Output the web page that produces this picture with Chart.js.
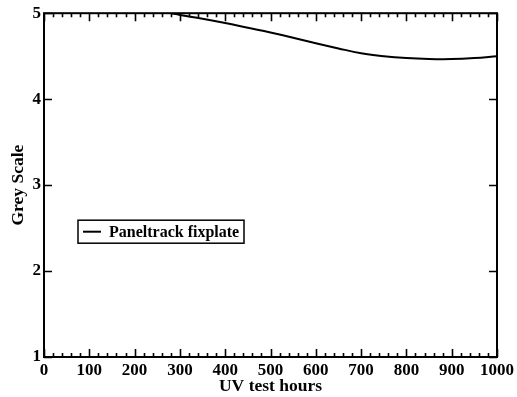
<!DOCTYPE html>
<html>
<head>
<meta charset="utf-8">
<script src="https://cdn.jsdelivr.net/npm/chart.js@4/dist/chart.umd.min.js"></script>
<style>
  html, body { margin: 0; padding: 0; background: #fff; }
  #wrap { width: 517px; height: 397px; }
</style>
</head>
<body>
<div id="wrap"><canvas id="uvChart" width="517" height="397"></canvas></div>
<script>
// UV exposure data
const hours = [280, 300, 350, 400, 450, 500, 550, 600, 650, 700, 750, 800, 850, 900, 950, 1000];
const greyScale = [5.0, 4.98, 4.935, 4.885, 4.83, 4.775, 4.715, 4.65, 4.59, 4.535, 4.5, 4.478, 4.467, 4.466, 4.478, 4.5];
const seriesName = 'Paneltrack fixplate';
const xTicks = [0, 100, 200, 300, 400, 500, 600, 700, 800, 900, 1000];
const yTicks = [1, 2, 3, 4, 5];

const serif = '"Liberation Serif", "DejaVu Serif", serif';

// frame, inward ticks and boxed legend, xmgrace style
const framePlugin = {
    id: 'frame',
    afterDraw(chart) {
        const { ctx, chartArea: a, scales } = chart;
        const xs = scales.x, ys = scales.y;
        ctx.save();
        ctx.strokeStyle = '#000';
        ctx.lineWidth = 2;
        ctx.strokeRect(a.left, a.top, a.right - a.left, a.bottom - a.top);

        ctx.beginPath();
        for (let v = 0; v <= 1000; v += 20) {
            const px = Math.round(xs.getPixelForValue(v)) + 0.5;
            const len = v % 100 === 0 ? 8 : 4;
            ctx.moveTo(px, a.bottom); ctx.lineTo(px, a.bottom - len);
            ctx.moveTo(px, a.top); ctx.lineTo(px, a.top + len);
        }
        yTicks.forEach(v => {
            const py = Math.round(ys.getPixelForValue(v)) + 0.5;
            ctx.moveTo(a.left, py); ctx.lineTo(a.left + 8, py);
            ctx.moveTo(a.right, py); ctx.lineTo(a.right - 8, py);
        });
        ctx.lineWidth = 1.6;
        ctx.stroke();

        // legend box
        const bx = a.left + 34, by = a.top + 207, bw = 166, bh = 23;
        ctx.lineWidth = 1.5;
        ctx.strokeRect(bx, by, bw, bh);
        ctx.beginPath();
        ctx.lineWidth = 2;
        ctx.moveTo(bx + 5, by + bh / 2);
        ctx.lineTo(bx + 23, by + bh / 2);
        ctx.stroke();
        ctx.fillStyle = '#000';
        ctx.font = 'bold 16px ' + serif;
        ctx.textBaseline = 'middle';
        ctx.fillText(chart.data.datasets[0].label, bx + 31, by + bh / 2 + 1);
        ctx.restore();
    }
};

const createUvChart = () => {
    const ctx = document.getElementById('uvChart')?.getContext('2d');
    if (!ctx) return;
    new Chart(ctx, {
        type: 'line',
        data: {
            datasets: [{
                label: seriesName,
                data: hours.map((h, i) => ({ x: h, y: greyScale[i] })),
                borderColor: '#000',
                borderWidth: 2,
                pointRadius: 0,
                tension: 0.4,
                fill: false
            }]
        },
        options: {
            responsive: false,
            animation: false,
            layout: { padding: { top: 13, right: 19, left: 0, bottom: 0 } },
            plugins: {
                legend: { display: false },
                tooltip: { enabled: false }
            },
            scales: {
                x: {
                    type: 'linear',
                    min: 0,
                    max: 1000,
                    afterBuildTicks: s => { s.ticks = xTicks.map(v => ({ value: v })); },
                    afterFit: s => { s.height = 40; },
                    grid: { display: false, drawTicks: false },
                    border: { display: false },
                    ticks: {
                        color: '#000',
                        padding: 3,
                        maxRotation: 0,
                        callback: v => String(v),
                        font: { family: serif, size: 17, weight: 'bold' }
                    },
                    title: {
                        display: true,
                        text: 'UV test hours',
                        color: '#000',
                        padding: { top: -4, bottom: 0 },
                        font: { family: serif, size: 17.5, weight: 'bold' }
                    }
                },
                y: {
                    type: 'linear',
                    min: 1,
                    max: 5,
                    afterBuildTicks: s => { s.ticks = yTicks.map(v => ({ value: v })); },
                    afterFit: s => { s.width = 44; },
                    grid: { display: false, drawTicks: false },
                    border: { display: false },
                    ticks: {
                        color: '#000',
                        padding: 3,
                        font: { family: serif, size: 17, weight: 'bold' }
                    },
                    title: {
                        display: true,
                        text: 'Grey Scale',
                        color: '#000',
                        padding: { top: 8, bottom: 0 },
                        font: { family: serif, size: 17.5, weight: 'bold' }
                    }
                }
            }
        },
        plugins: [framePlugin]
    });
};

document.addEventListener('DOMContentLoaded', createUvChart);
</script>
</body>
</html>
